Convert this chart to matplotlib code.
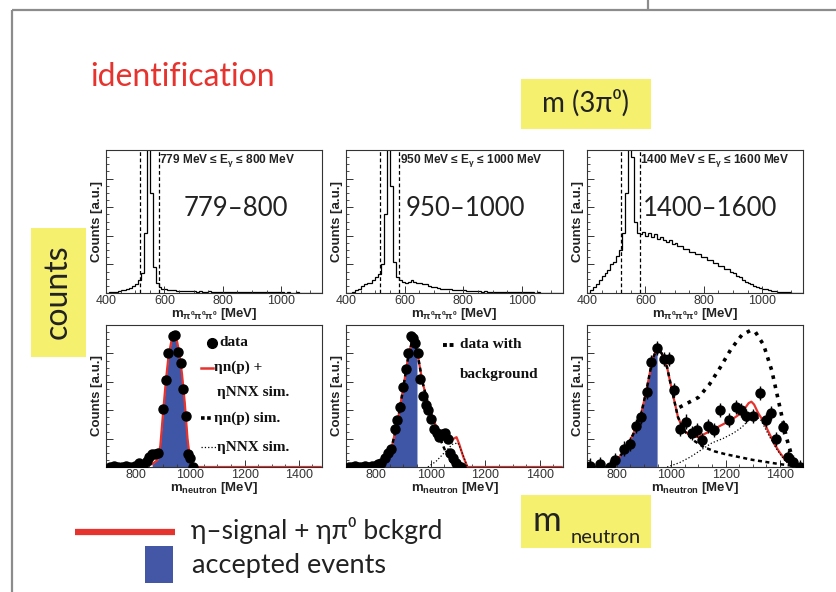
import numpy as np
import matplotlib
matplotlib.use('Agg')
import matplotlib.pyplot as plt
from matplotlib.patches import Rectangle
from matplotlib.ticker import MultipleLocator

W, H = 837, 592
SLIDE_FONT = ['Lato', 'DejaVu Sans']
ROOT_FONT = ['Liberation Sans', 'DejaVu Sans']
SERIF = ['Liberation Serif', 'DejaVu Serif']
RED = '#e6332e'
BLUE = '#3f55a5'
YELLOW = '#f6f06f'

plt.rcParams['mathtext.default'] = 'regular'

# ---- top row: m(3pi0) histograms, 10 MeV bins starting at 400 MeV ----
bin_lo, bin_w = 400, 10
cut_lo, cut_hi = 515, 580
energy_ranges = ['779\u2013800', '950\u20131000', '1400\u20131600']
energy_titles = ['779 MeV \u2264 E$_{\\gamma}$ \u2264 800 MeV',
                 '950 MeV \u2264 E$_{\\gamma}$ \u2264 1000 MeV',
                 '1400 MeV \u2264 E$_{\\gamma}$ \u2264 1600 MeV']

h_779 = [0.00, 0.005, 0.01, 0.01, 0.015, 0.02, 0.02, 0.03, 0.035, 0.05,
         0.06, 0.09, 0.14, 0.42, 1.05, 0.70, 0.18, 0.07, 0.04, 0.03,
         0.025, 0.02, 0.02, 0.018, 0.015, 0.015, 0.015, 0.012, 0.014, 0.012,
         0.012, 0.01, 0.012, 0.01, 0.01, 0.012, 0.01, 0.008, 0.01, 0.008,
         0.01, 0.008, 0.01, 0.008, 0.006, 0.008, 0.006, 0.008, 0.006, 0.005,
         0.006, 0.005, 0.006, 0.005, 0.004, 0.005, 0.004, 0.005, 0.004, 0.004,
         0.005, 0.003, 0.004, 0.003, 0.003, 0.004, 0.003, 0.002, 0.003, 0.002,
         0.002, 0.002, 0.001, 0.001]
h_950 = [0.00, 0.00, 0.01, 0.02, 0.03, 0.05, 0.06, 0.07, 0.07, 0.09,
         0.11, 0.13, 0.20, 0.55, 1.05, 0.75, 0.22, 0.11, 0.09, 0.08,
         0.07, 0.08, 0.09, 0.08, 0.07, 0.07, 0.06, 0.06, 0.05, 0.045,
         0.04, 0.035, 0.03, 0.03, 0.025, 0.025, 0.02, 0.02, 0.02, 0.018,
         0.02, 0.015, 0.015, 0.012, 0.015, 0.012, 0.01, 0.012, 0.01, 0.01,
         0.008, 0.01, 0.008, 0.008, 0.006, 0.008, 0.006, 0.005, 0.006, 0.005,
         0.005, 0.004, 0.005, 0.004, 0.003, 0.004, 0.003, 0.003, 0.002, 0.003,
         0.002, 0.002, 0.001, 0.001]
h_1400 = [0.00, 0.02, 0.04, 0.06, 0.09, 0.12, 0.14, 0.16, 0.20, 0.22,
          0.26, 0.30, 0.42, 0.70, 1.05, 0.95, 0.50, 0.42, 0.41, 0.43,
          0.40, 0.42, 0.39, 0.41, 0.38, 0.39, 0.37, 0.36, 0.37, 0.34,
          0.35, 0.33, 0.33, 0.31, 0.31, 0.29, 0.29, 0.27, 0.27, 0.25,
          0.25, 0.23, 0.23, 0.21, 0.21, 0.19, 0.19, 0.17, 0.17, 0.15,
          0.14, 0.12, 0.11, 0.09, 0.08, 0.07, 0.06, 0.05, 0.04, 0.035,
          0.03, 0.025, 0.02, 0.015, 0.012, 0.01, 0.008, 0.006, 0.005, 0.004,
          0.003, 0.002, 0.002, 0.001]
top_hists = [h_779, h_950, h_1400]

# ---- bottom row: m_neutron ----
# 779-800 MeV
d1_x = [705, 720, 735, 750, 765, 780, 795, 810, 825, 840, 850, 860, 870, 880,
        900, 910, 920, 935, 945, 955, 965, 975, 985, 992, 1000, 1010]
d1_y = [0.0, 0.01, 0.0, 0.0, 0.01, 0.0, 0.01, 0.03, 0.01, 0.04, 0.07, 0.09, 0.09, 0.1,
        0.41, 0.61, 0.80, 0.92, 0.93, 0.81, 0.73, 0.55, 0.36, 0.09, 0.06, 0.0]
s1_x = [690, 860, 880, 890, 900, 910, 920, 930, 940, 945, 950, 960, 970, 980,
        990, 1000, 1010, 1480]
s1_y = [0.0, 0.02, 0.05, 0.15, 0.38, 0.60, 0.78, 0.88, 0.93, 0.93, 0.90, 0.80, 0.65, 0.45,
        0.20, 0.04, 0.0, 0.0]
cut1 = 1010

# 950-1000 MeV
d2_x = [700, 712, 724, 736, 748, 760, 772, 784, 796, 808, 820, 832, 844, 856, 868,
        878, 888, 898, 908, 918, 928, 936, 944, 952, 962, 972, 982, 992, 1002, 1012,
        1022, 1032, 1042, 1052, 1062, 1072, 1082, 1092, 1102, 1112]
d2_y = [0.0, 0.0, 0.01, 0.0, 0.0, 0.01, 0.0, 0.01, 0.01, 0.02, 0.03, 0.06, 0.10, 0.13, 0.27,
        0.33, 0.42, 0.56, 0.69, 0.80, 0.92, 0.91, 0.87, 0.80, 0.62, 0.50, 0.44, 0.40, 0.34, 0.27,
        0.24, 0.21, 0.23, 0.24, 0.20, 0.10, 0.06, 0.03, 0.01, 0.0]
s2_x = [690, 820, 840, 860, 880, 900, 920, 935, 950, 970, 990, 1010, 1030, 1050, 1070,
        1085, 1095, 1105, 1120, 1135, 1480]
s2_y = [0.0, 0.02, 0.07, 0.16, 0.33, 0.56, 0.80, 0.90, 0.82, 0.60, 0.45, 0.33, 0.25, 0.20, 0.18,
        0.20, 0.21, 0.16, 0.07, 0.0, 0.0]
np2_x = [690, 820, 840, 860, 880, 900, 920, 935, 950, 970, 990, 1010, 1030, 1050, 1070, 1090]
np2_y = [0.0, 0.02, 0.07, 0.16, 0.33, 0.56, 0.80, 0.90, 0.82, 0.60, 0.45, 0.32, 0.22, 0.13, 0.05, 0.0]
nnx2_x = [990, 1020, 1050, 1080, 1100, 1120, 1135]
nnx2_y = [0.0, 0.04, 0.10, 0.16, 0.17, 0.08, 0.0]
cut2 = 950

# 1400-1600 MeV
d3_x = [700, 737, 775, 794, 825, 850, 869, 887, 909, 925, 948, 972, 992, 1012, 1031,
        1056, 1075, 1094, 1112, 1137, 1156, 1181, 1212, 1237, 1256, 1275, 1300, 1325,
        1350, 1369, 1387, 1412, 1431, 1450, 1475]
d3_y = [0.01, 0.02, 0.0, 0.05, 0.13, 0.16, 0.29, 0.35, 0.53, 0.74, 0.84, 0.76, 0.76, 0.54, 0.27,
        0.32, 0.24, 0.26, 0.19, 0.29, 0.26, 0.40, 0.33, 0.42, 0.40, 0.36, 0.36, 0.52,
        0.33, 0.38, 0.20, 0.28, 0.07, 0.035, 0.0]
s3_x = [690, 760, 800, 830, 860, 890, 910, 930, 948, 965, 985, 1005, 1025, 1045, 1070, 1100,
        1130, 1160, 1190, 1220, 1250, 1270, 1285, 1295, 1305, 1320, 1340, 1360, 1380, 1400,
        1420, 1440, 1460]
s3_y = [0.0, 0.0, 0.05, 0.12, 0.23, 0.38, 0.55, 0.75, 0.84, 0.80, 0.70, 0.52, 0.35, 0.26, 0.22, 0.21,
        0.24, 0.27, 0.30, 0.33, 0.37, 0.41, 0.45, 0.46, 0.44, 0.38, 0.32, 0.24, 0.16, 0.10,
        0.05, 0.02, 0.0]
np3_x = [690, 760, 800, 830, 860, 890, 910, 930, 948, 965, 985, 1005, 1025, 1050, 1080, 1120,
         1160, 1200, 1250, 1300, 1350, 1400, 1440, 1470]
np3_y = [0.0, 0.0, 0.05, 0.12, 0.23, 0.38, 0.55, 0.75, 0.84, 0.80, 0.70, 0.52, 0.35, 0.25, 0.19, 0.14,
         0.11, 0.09, 0.07, 0.05, 0.035, 0.02, 0.01, 0.0]
nnx3_x = [985, 1030, 1070, 1110, 1150, 1190, 1230, 1260, 1290, 1310, 1330, 1360, 1390, 1420, 1450]
nnx3_y = [0.0, 0.03, 0.07, 0.12, 0.17, 0.20, 0.24, 0.28, 0.34, 0.36, 0.33, 0.22, 0.12, 0.04, 0.0]
bg3_x = [1030, 1060, 1100, 1140, 1180, 1220, 1260, 1290, 1310, 1340, 1370, 1400, 1425, 1445, 1465]
bg3_y = [0.42, 0.45, 0.49, 0.58, 0.70, 0.83, 0.93, 0.96, 0.95, 0.86, 0.68, 0.42, 0.20, 0.07, 0.0]
cut3 = 950


def px_rect(l, t, r, b):
    return [l / W, 1 - b / H, (r - l) / W, (b - t) / H]


def style_axes(ax, xlim, xticks, xlabel):
    ax.set_xlim(*xlim)
    ax.set_ylim(0, 1.0)
    ax.set_xticks(xticks)
    ax.xaxis.set_minor_locator(MultipleLocator(50))
    ax.yaxis.set_major_locator(MultipleLocator(0.2))
    ax.yaxis.set_minor_locator(MultipleLocator(0.05))
    ax.tick_params(which='both', direction='in', top=False, right=False,
                   labelleft=False, colors='#333333', labelsize=9, pad=1.5)
    ax.tick_params(which='major', length=5, width=0.7)
    ax.tick_params(which='minor', length=2.5, width=0.6)
    for lab in ax.get_xticklabels():
        lab.set_family(ROOT_FONT)
    for s in ax.spines.values():
        s.set_linewidth(0.8)
        s.set_color('#333333')
    ax.set_xlabel(xlabel, fontsize=9.5, fontweight='bold', family=ROOT_FONT,
                  labelpad=-1, color='#222222')
    ax.set_ylabel('Counts [a.u.]', fontsize=9.5, fontweight='bold', family=ROOT_FONT,
                  labelpad=2, color='#222222')


fig = plt.figure(figsize=(W / 100, H / 100), dpi=100)

# slide decorations in pixel coordinates
ov = fig.add_axes([0, 0, 1, 1], zorder=-1)
ov.set_xlim(0, W)
ov.set_ylim(H, 0)
ov.axis('off')
ov.plot([12, W], [10, 10], color='#8c8c8c', lw=1.6, solid_capstyle='butt')
ov.plot([12, 12], [10, H], color='#8c8c8c', lw=1.6, solid_capstyle='butt')
ov.plot([648, 648], [0, 10], color='#8c8c8c', lw=1.6, solid_capstyle='butt')
ov.add_patch(Rectangle((521, 79), 130, 50, color=YELLOW, lw=0))
ov.add_patch(Rectangle((31, 228), 55, 129, color=YELLOW, lw=0))
ov.add_patch(Rectangle((521, 495), 130, 53, color=YELLOW, lw=0))
ov.text(90, 77, 'identification', color=RED, fontsize=23, family=SLIDE_FONT,
        ha='left', va='center')
ov.text(586, 103, 'm (3\u03c0\u2070)', color='#222222', fontsize=20, family=SLIDE_FONT,
        ha='center', va='center')
ov.text(58, 292, 'counts', color='#222222', fontsize=23, family=SLIDE_FONT,
        ha='center', va='center', rotation=90)
ov.text(547, 531, 'm', color='#222222', fontsize=25, family=SLIDE_FONT,
        ha='center', va='baseline')
ov.text(571, 543, 'neutron', color='#222222', fontsize=14.5, family=SLIDE_FONT,
        ha='left', va='baseline')
ov.plot([75, 175], [532, 532], color=RED, lw=4.5, solid_capstyle='butt')
ov.add_patch(Rectangle((145, 546), 28, 37, color='#4357a6', lw=0))
ov.text(191, 531, '\u03b7\u2013signal + \u03b7\u03c0\u2070 bckgrd', color='#222222',
        fontsize=19, family=SLIDE_FONT, ha='left', va='center')
ov.text(192, 565, 'accepted events', color='#222222', fontsize=19.5,
        family=SLIDE_FONT, ha='left', va='center')

top_boxes = [(106, 150, 322, 293), (346, 150, 563, 293), (587, 150, 803, 293)]
bot_boxes = [(106, 325, 322, 467), (346, 325, 563, 467), (587, 325, 803, 467)]
range_pos = [0.60, 0.55, 0.57]

edges = bin_lo + bin_w * np.arange(len(h_779) + 1)
for i in range(3):
    ax = fig.add_axes(px_rect(*top_boxes[i]))
    ax.stairs(top_hists[i], edges, color='black', lw=0.9)
    for c in (cut_lo, cut_hi):
        ax.axvline(c, color='black', lw=0.9, ls=(0, (3, 2)))
    style_axes(ax, (400, 1140), [400, 600, 800, 1000],
               r'm$_{\pi^0\pi^0\pi^0}$ [MeV]')
    ax.text(cut_hi + 3, 0.985, energy_titles[i], transform=ax.get_xaxis_transform(),
            fontsize=8.6, fontweight='bold', family=ROOT_FONT, va='top', ha='left',
            color='#222222')
    ax.text(range_pos[i], 0.59, energy_ranges[i], transform=ax.transAxes,
            fontsize=18.5, family=SLIDE_FONT, color='#222222', ha='center', va='center')

mlab = r'm$_{neutron}$ [MeV]'
xl_b = (690, 1485)
xt_b = [800, 1000, 1200, 1400]
dash_np = (0, (1.6, 1.4))
dash_leg = (0, (1.0, 0.7))
dot_bg = (0, (1, 1.6))
LEG = dict(fontsize=11, fontweight='bold', family=SERIF, va='center', color='#111111')

# panel 4
ax = fig.add_axes(px_rect(*bot_boxes[0]))
sx, sy = np.array(s1_x), np.array(s1_y)
ax.fill_between(sx, sy, where=(sx <= cut1) & (sx >= 860), color=BLUE, lw=0)
ax.plot(sx, sy, color=RED, lw=1.6)
ax.errorbar(d1_x, d1_y, yerr=0.02, fmt='o', ms=6.5, color='black', elinewidth=1, capsize=0, zorder=5)
style_axes(ax, xl_b, xt_b, mlab)
T = ax.transAxes
ax.plot([0.49], [0.875], 'o', ms=7, color='black', transform=T, clip_on=False)
ax.text(0.525, 0.875, 'data', transform=T, **LEG)
ax.plot([0.44, 0.495], [0.70, 0.70], color=RED, lw=1.8, transform=T)
ax.text(0.50, 0.70, '\u03b7n(p) +', transform=T, **LEG)
ax.text(0.515, 0.525, '\u03b7NNX sim.', transform=T, **LEG)
ax.plot([0.44, 0.495], [0.345, 0.345], color='black', lw=2.6, ls=dash_leg, transform=T)
ax.text(0.50, 0.345, '\u03b7n(p) sim.', transform=T, **LEG)
ax.plot([0.44, 0.51], [0.14, 0.14], color='black', lw=0.9, ls=':', transform=T)
ax.text(0.515, 0.14, '\u03b7NNX sim.', transform=T, **LEG)

# panel 5
ax = fig.add_axes(px_rect(*bot_boxes[1]))
sx, sy = np.array(s2_x), np.array(s2_y)
ax.fill_between(sx, sy, where=sx <= cut2, color=BLUE, lw=0)
ax.plot(sx, sy, color=RED, lw=1.6)
ax.plot(np2_x, np2_y, color='black', lw=1.8, ls=dash_np)
ax.plot(nnx2_x, nnx2_y, color='black', lw=0.9, ls=':')
ax.errorbar(d2_x, d2_y, yerr=0.02, fmt='o', ms=6.5, color='black', elinewidth=1, capsize=0, zorder=5)
style_axes(ax, xl_b, xt_b, mlab)
T = ax.transAxes
ax.plot([0.445, 0.50], [0.86, 0.86], color='black', lw=2.8, ls=dash_leg, transform=T)
ax.text(0.525, 0.86, 'data with', transform=T, **LEG)
ax.text(0.525, 0.65, 'background', transform=T, **LEG)

# panel 6
ax = fig.add_axes(px_rect(*bot_boxes[2]))
sx, sy = np.array(s3_x), np.array(s3_y)
ax.fill_between(sx, sy, where=sx <= cut3, color=BLUE, lw=0)
ax.plot(sx, sy, color=RED, lw=1.6)
ax.plot(np3_x, np3_y, color='black', lw=1.8, ls=dash_np)
ax.plot(nnx3_x, nnx3_y, color='black', lw=0.9, ls=':')
ax.plot(bg3_x, bg3_y, color='black', lw=2.6, ls=dot_bg)
ax.errorbar(d3_x, d3_y, yerr=0.05, fmt='o', ms=6.5, color='black', elinewidth=1, capsize=0, zorder=5)
style_axes(ax, xl_b, xt_b, mlab)

fig.savefig('out.png', dpi=100)
